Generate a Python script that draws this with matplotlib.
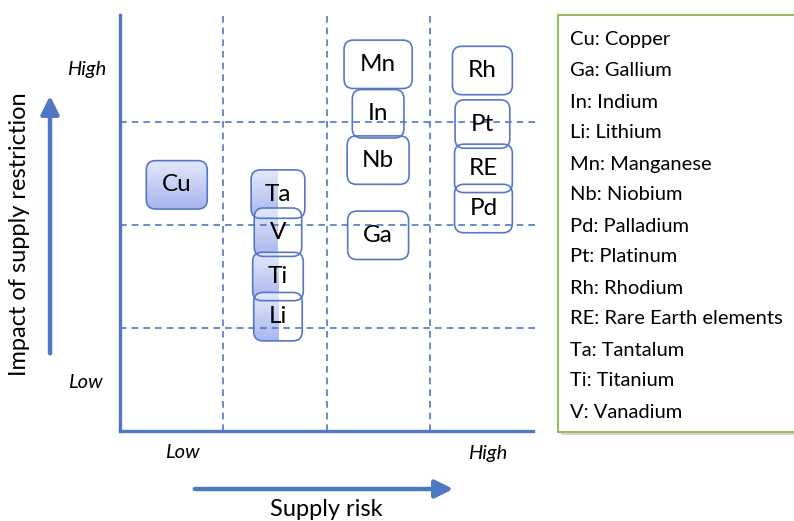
import numpy as np
import matplotlib.pyplot as plt
from matplotlib.patches import FancyBboxPatch, FancyArrowPatch, Rectangle
from matplotlib.colors import LinearSegmentedColormap

plt.rcParams["font.family"] = ["Lato", "DejaVu Sans"]

# element boxes: position on (supply risk, impact) grid, 0..4 each
elements = ["Cu", "Ta", "V", "Ti", "Li", "Mn", "In", "Nb", "Ga", "Rh", "Pt", "RE", "Pd"]
supply_risk = [0.55, 1.53, 1.53, 1.53, 1.53, 2.50, 2.50, 2.50, 2.50, 3.51, 3.51, 3.52, 3.52]
impact = [2.39, 2.30, 1.93, 1.50, 1.11, 3.56, 3.08, 2.63, 1.90, 3.50, 2.98, 2.55, 2.16]
shading = ["full", "half", "half", "half", "half", "none", "none", "none", "none",
           "none", "none", "none", "none"]

legend_lines = ["Cu: Copper", "Ga: Gallium", "In: Indium", "Li: Lithium",
                "Mn: Manganese", "Nb: Niobium", "Pd: Palladium", "Pt: Platinum",
                "Rh: Rhodium", "RE: Rare Earth elements", "Ta: Tantalum",
                "Ti: Titanium", "V: Vanadium"]

# box widths (style only)
box_w = [0.59, 0.52, 0.46, 0.49, 0.47, 0.66, 0.50, 0.60, 0.59, 0.58, 0.53, 0.56, 0.56]
box_h = 0.47

blue = "#4f78c4"
edge = "#5677c8"
grad = LinearSegmentedColormap.from_list("g", ["#a7b6ee", "#e4e9fb"])

fig = plt.figure(figsize=(7.94, 5.21), dpi=100)
W, H = 794, 521
ax = fig.add_axes([120 / W, (H - 431) / H, 413 / W, 416 / H])
ax.set_xlim(0, 4)
ax.set_ylim(0, 416 / 103)
ax.set_xticks([])
ax.set_yticks([])
for s in ["top", "right"]:
    ax.spines[s].set_visible(False)
for s in ["left", "bottom"]:
    ax.spines[s].set_color(blue)
    ax.spines[s].set_linewidth(2.4)
    ax.spines[s].set_zorder(5)

for v in [1, 2, 3]:
    ax.axvline(v, color=blue, lw=1.2, ls=(0, (4, 3)), zorder=3)
    ax.axhline(v, xmax=1.005, color=blue, lw=1.2, ls=(0, (4, 3)), zorder=3, clip_on=False)

gy = np.linspace(0, 1, 64).reshape(-1, 1)
for name, x, y, w, sh in zip(elements, supply_risk, impact, box_w, shading):
    box = FancyBboxPatch((x - w / 2, y - box_h / 2), w, box_h,
                         boxstyle="round,pad=0,rounding_size=0.09",
                         facecolor="none", edgecolor=edge, lw=1.2, zorder=2)
    ax.add_patch(box)
    if sh != "none":
        x1 = x + w / 2 if sh == "full" else x
        im = ax.imshow(gy, cmap=grad, origin="lower", aspect="auto",
                       extent=(x - w / 2, x1, y - box_h / 2, y + box_h / 2), zorder=1.5)
        im.set_clip_path(box)
    ax.text(x, y, name, ha="center", va="center", fontsize=17.5, color="black", zorder=4)

# axis words
fig.text(87 / W, 1 - 70 / H, "High", fontsize=14.5, style="italic", ha="center", va="center")
fig.text(85 / W, 1 - 382 / H, "Low", fontsize=14.5, style="italic", ha="center", va="center")
fig.text(182 / W, 1 - 453 / H, "Low", fontsize=14.5, style="italic", ha="center", va="center")
fig.text(488 / W, 1 - 453 / H, "High", fontsize=14.5, style="italic", ha="center", va="center")

fig.text(20 / W, 1 - 234 / H, "Impact of supply restriction", fontsize=17,
         rotation=90, ha="center", va="center")
fig.text(326 / W, 1 - 509 / H, "Supply risk", fontsize=17, ha="center", va="center")

astyle = "-|>,head_length=0.9,head_width=0.45"
fig.add_artist(FancyArrowPatch((50 / W, 1 - 356 / H), (50 / W, 1 - 93 / H),
                               transform=fig.transFigure, arrowstyle=astyle,
                               color=blue, lw=3.2, mutation_scale=12))
fig.add_artist(FancyArrowPatch((192 / W, 1 - 489 / H), (456 / W, 1 - 489 / H),
                               transform=fig.transFigure, arrowstyle=astyle,
                               color=blue, lw=3.2, mutation_scale=12))

# key box
fig.patches.append(Rectangle((561 / W, (H - 435) / H), 260 / W, 418 / H,
                             transform=fig.transFigure, facecolor="#d8d8d8",
                             edgecolor="none", zorder=0))
fig.patches.append(Rectangle((558 / W, (H - 432) / H), 260 / W, 417 / H,
                             transform=fig.transFigure, facecolor="white",
                             edgecolor="#9bbb59", lw=1.5, zorder=1))
for i, line in enumerate(legend_lines):
    fig.text(570 / W, 1 - (40 + i * 31.0) / H, line, fontsize=14.5,
             ha="left", va="center")

fig.savefig("out.png", dpi=100)
